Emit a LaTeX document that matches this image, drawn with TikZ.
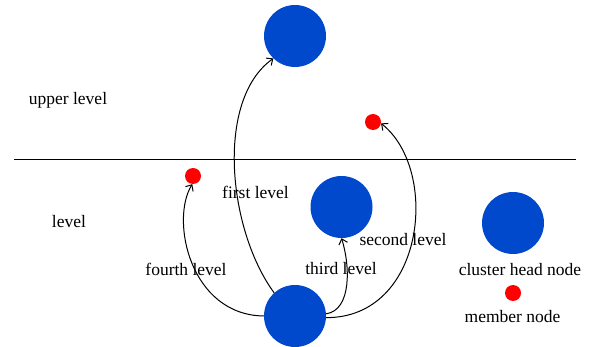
\documentclass[tikz,border=0pt]{standalone}
\usepackage{fontspec}
\setmainfont{Liberation Serif}
\usetikzlibrary{arrows.meta}
\definecolor{chblue}{RGB}{0,72,204}
\definecolor{mred}{RGB}{255,0,0}
\tikzset{
  head/.style={circle,fill=chblue,draw=none,minimum size=62pt,inner sep=0pt},
  member/.style={circle,fill=mred,draw=none,minimum size=16pt,inner sep=0pt},
  lbl/.style={inner sep=0pt,font=\fontsize{17.5}{20}\selectfont},
  conn/.style={line width=1pt,-{Straight Barb[length=5pt,width=9pt,line width=1pt]}}
}
\begin{document}
\begin{tikzpicture}[x=1pt,y=-1pt]
\useasboundingbox (0,0) rectangle (592,347);
\fill[white] (0,0) rectangle (592,347);
\coordinate (L1) at (14,160);
\coordinate (L2) at (576,160);
\draw[line width=1pt] (L1) -- (L2);
\node[head] (T) at (295,36) {};
\node[member] (R1) at (373,122) {};
\node[member] (R2) at (193,176) {};
\node[head] (M) at (341.5,207) {};
\node[head] (B) at (295,316) {};
\node[head] (K) at (513,223) {};
\node[member] (KM) at (513,293) {};
\node[lbl] (tu) at (68,100) {upper level};
\node[lbl] (tl) at (69,222) {level};
\node[lbl] (t1) at (255.5,192) {first level};
\node[lbl] (t2) at (403,240) {second level};
\node[lbl] (t3) at (341,269) {third level};
\node[lbl] (t4) at (186,269) {fourth level};
\node[lbl] (tk) at (520,270) {cluster head node};
\node[lbl] (tm) at (512.5,317) {member node};
\draw[conn] (B.132) .. controls (228,230) and (215,100) .. (T.226);
\draw[conn] (B.-3) .. controls (425,318) and (440,170) .. (R1.350);
\draw[conn] (B.4) .. controls (352,310) and (350,265) .. (M.270);
\draw[conn] (B.180) .. controls (190,315) and (170,220) .. (R2.265);
\end{tikzpicture}
\end{document}
